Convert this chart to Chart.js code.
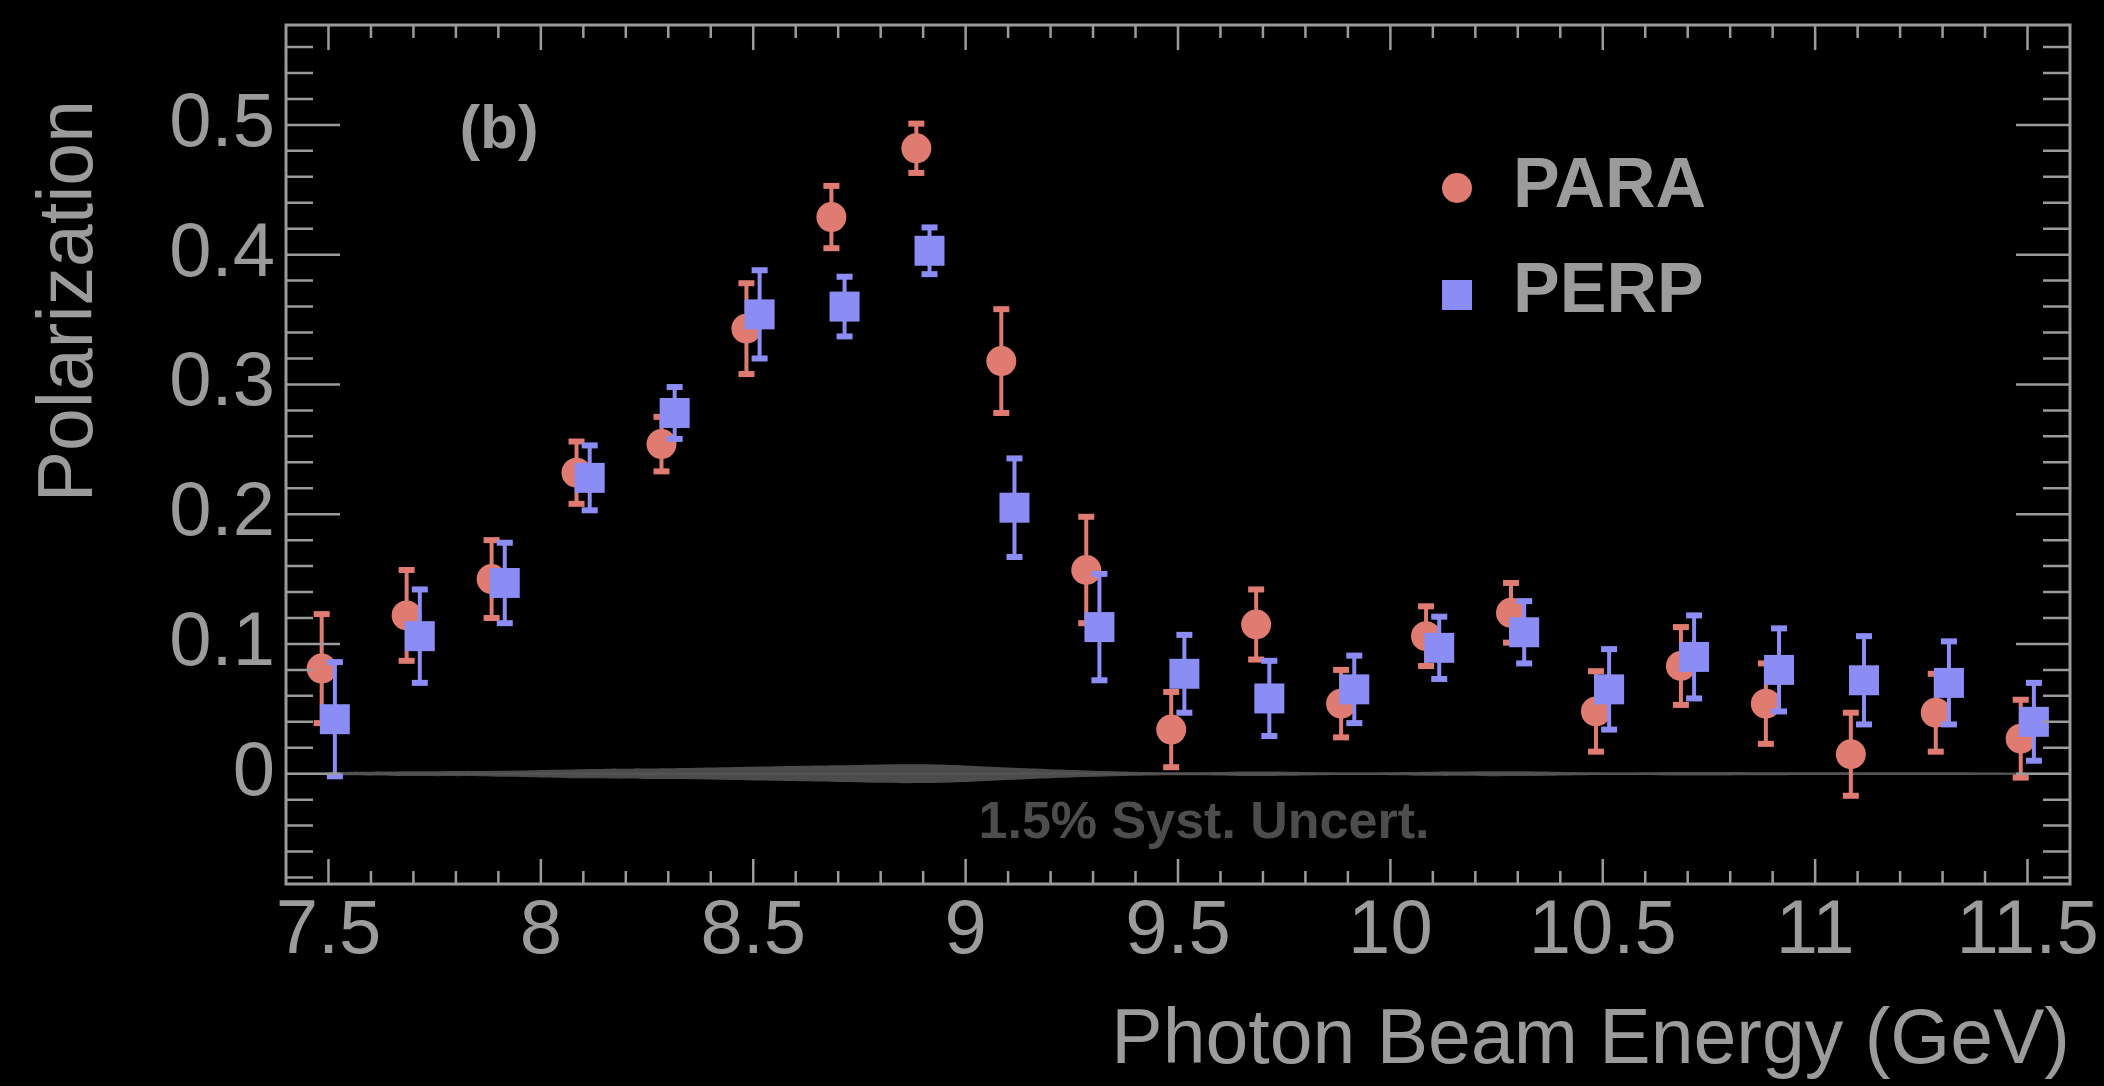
<!DOCTYPE html>
<html>
<head>
<meta charset="utf-8">
<title>Photon beam polarization</title>
<script src="https://cdn.jsdelivr.net/npm/chart.js@4.4.1/dist/chart.umd.min.js"></script>
<style>
  html, body { margin: 0; padding: 0; background: #000; }
  #wrap { width: 2104px; height: 1086px; }
</style>
</head>
<body>
<div id="wrap"><canvas id="pol-chart" width="2104" height="1086"></canvas></div>
<script>
// Beam energy bins (GeV)
const energyBins = [7.5, 7.7, 7.9, 8.1, 8.3, 8.5, 8.7, 8.9, 9.1, 9.3, 9.5,
                    9.7, 9.9, 10.1, 10.3, 10.5, 10.7, 10.9, 11.1, 11.3, 11.5];

// PARA orientation: polarization and statistical error
const paraPol = [0.081, 0.122, 0.150, 0.232, 0.254, 0.343, 0.429, 0.482, 0.318, 0.157, 0.034,
                 0.115, 0.054, 0.106, 0.124, 0.048, 0.083, 0.054, 0.015, 0.047, 0.027];
const paraErr = [0.042, 0.035, 0.030, 0.024, 0.021, 0.035, 0.024, 0.019, 0.040, 0.041, 0.029,
                 0.027, 0.026, 0.023, 0.023, 0.031, 0.030, 0.031, 0.032, 0.030, 0.030];

// PERP orientation: polarization and statistical error
const perpPol = [0.042, 0.106, 0.147, 0.228, 0.278, 0.354, 0.360, 0.403, 0.205, 0.113, 0.077,
                 0.058, 0.065, 0.097, 0.109, 0.065, 0.090, 0.080, 0.072, 0.070, 0.040];
const perpErr = [0.044, 0.036, 0.031, 0.025, 0.020, 0.034, 0.023, 0.018, 0.038, 0.041, 0.030,
                 0.029, 0.026, 0.024, 0.024, 0.031, 0.032, 0.032, 0.034, 0.032, 0.030];

const xTickValues = [7.5, 8, 8.5, 9, 9.5, 10, 10.5, 11, 11.5];
const yTickValues = [0, 0.1, 0.2, 0.3, 0.4, 0.5];

// relative systematic uncertainty shown as a band around zero
const systFraction = 0.015;

// small horizontal offsets so the two orientations don't sit on top of each other
const paraShift = -0.016;
const perpShift = 0.015;

const paraColor = '#df7b70';
const perpColor = '#8c8cf5';
const axisColor = '#9b9b9b';
const bandColor = '#4b4b4b';
const fontFamily = '"Liberation Sans", Arial, Helvetica, sans-serif';

Chart.defaults.font.family = fontFamily;

const paraPoints = energyBins.map((e, i) => ({ x: e + paraShift, y: paraPol[i] }));
const perpPoints = energyBins.map((e, i) => ({ x: e + perpShift, y: perpPol[i] }));
const systHalf = energyBins.map((e, i) => systFraction * Math.max(paraPol[i], perpPol[i]));
const bandUpper = energyBins.map((e, i) => ({ x: e, y: systHalf[i] }));
const bandLower = energyBins.map((e, i) => ({ x: e, y: -systHalf[i] }));

// vertical error bars with small caps, drawn just before each dataset's markers
const errorBars = {
    id: 'errorBars',
    beforeDatasetDraw(chart, args) {
        const ds = chart.data.datasets[args.index];
        if (!ds.errors) return;
        const xs = chart.scales.x, ys = chart.scales.y;
        const ctx = chart.ctx;
        ctx.save();
        ctx.strokeStyle = ds.backgroundColor;
        ctx.fillStyle = ds.backgroundColor;
        ctx.lineWidth = 4;
        ds.data.forEach((p, i) => {
            const px = xs.getPixelForValue(p.x);
            const top = ys.getPixelForValue(p.y + ds.errors[i]);
            const bot = ys.getPixelForValue(p.y - ds.errors[i]);
            ctx.beginPath();
            ctx.moveTo(px, top);
            ctx.lineTo(px, bot);
            ctx.stroke();
            ctx.fillRect(px - 8, top - 3, 16, 6);
            ctx.fillRect(px - 8, bot - 3, 16, 6);
        });
        ctx.restore();
    }
};

// box frame with inward ticks on all four sides
const frameTicks = {
    id: 'frameTicks',
    afterDatasetsDraw(chart) {
        const { left, right, top, bottom } = chart.chartArea;
        const xs = chart.scales.x, ys = chart.scales.y;
        const ctx = chart.ctx;
        ctx.save();
        ctx.strokeStyle = axisColor;
        ctx.lineWidth = 2.5;
        ctx.beginPath();
        for (let k = 75; k <= 115; k++) {
            const px = xs.getPixelForValue(k / 10);
            const len = k % 5 === 0 ? 25 : 13;
            ctx.moveTo(px, bottom);
            ctx.lineTo(px, bottom - len);
            ctx.moveTo(px, top);
            ctx.lineTo(px, top + len);
        }
        for (let k = -4; k <= 28; k++) {
            const py = ys.getPixelForValue(k * 0.02);
            const len = k % 5 === 0 ? 54 : 27;
            ctx.moveTo(left, py);
            ctx.lineTo(left + len, py);
            ctx.moveTo(right, py);
            ctx.lineTo(right - len, py);
        }
        ctx.stroke();
        ctx.lineWidth = 3;
        ctx.strokeRect(left, top, right - left, bottom - top);
        ctx.restore();
    }
};

// y title, panel tag, legend and band caption
const annotations = {
    id: 'annotations',
    afterDraw(chart) {
        const ctx = chart.ctx;
        const { left, top } = chart.chartArea;
        ctx.save();
        ctx.fillStyle = axisColor;
        ctx.save();
        ctx.font = '77px ' + fontFamily;
        ctx.translate(92, 100);
        ctx.rotate(-Math.PI / 2);
        ctx.textAlign = 'right';
        ctx.textBaseline = 'alphabetic';
        ctx.fillText('Polarization', 0, 0);
        ctx.restore();

        ctx.textBaseline = 'middle';
        ctx.textAlign = 'center';
        ctx.font = 'bold 62px ' + fontFamily;
        ctx.fillText('(b)', left + 213, top + 106);

        // legend
        const lx = 1457;
        ctx.fillStyle = paraColor;
        ctx.beginPath();
        ctx.arc(lx, 188, 15, 0, Math.PI * 2);
        ctx.fill();
        ctx.fillStyle = perpColor;
        ctx.fillRect(lx - 15, 280, 30, 30);
        ctx.fillStyle = axisColor;
        ctx.textAlign = 'left';
        ctx.font = 'bold 70px ' + fontFamily;
        ctx.fillText('PARA', 1513, 188);
        ctx.fillText('PERP', 1513, 293);

        ctx.fillStyle = '#4d4d4d';
        ctx.textAlign = 'center';
        ctx.font = 'bold 52px ' + fontFamily;
        ctx.fillText('1.5% Syst. Uncert.', 1204, 824);
        ctx.restore();
    }
};

const ctx = document.getElementById('pol-chart').getContext('2d');
new Chart(ctx, {
    type: 'scatter',
    data: {
        datasets: [
            {
                label: 'PERP',
                data: perpPoints,
                errors: perpErr,
                pointStyle: 'rect',
                pointRadius: 21.2,
                backgroundColor: perpColor,
                borderWidth: 0,
                order: 0
            },
            {
                label: 'PARA',
                data: paraPoints,
                errors: paraErr,
                pointStyle: 'circle',
                pointRadius: 15,
                backgroundColor: paraColor,
                borderWidth: 0,
                order: 1
            },
            {
                label: 'zero',
                type: 'line',
                data: [{ x: 7.4, y: 0 }, { x: 11.6, y: 0 }],
                borderColor: '#555555',
                borderWidth: 2,
                pointRadius: 0,
                fill: false,
                order: 2
            },
            {
                label: 'syst upper',
                type: 'line',
                data: bandUpper,
                borderWidth: 0,
                borderColor: bandColor,
                backgroundColor: bandColor,
                pointRadius: 0,
                tension: 0.4,
                fill: '+1',
                order: 3
            },
            {
                label: 'syst lower',
                type: 'line',
                data: bandLower,
                borderWidth: 0,
                borderColor: bandColor,
                pointRadius: 0,
                tension: 0.4,
                fill: false,
                order: 4
            }
        ]
    },
    options: {
        responsive: false,
        devicePixelRatio: 1,
        animation: false,
        events: [],
        layout: { padding: { top: 25, right: 34, left: 0, bottom: 0 } },
        plugins: {
            legend: { display: false },
            tooltip: { enabled: false }
        },
        scales: {
            x: {
                type: 'linear',
                min: 7.4,
                max: 11.6,
                grid: { display: false, drawTicks: false },
                border: { display: false },
                afterBuildTicks: (axis) => { axis.ticks = xTickValues.map(v => ({ value: v })); },
                afterFit: (axis) => {
                    axis.height = 202;
                    axis.paddingLeft = 0;
                    axis.paddingRight = 0;
                },
                ticks: {
                    color: axisColor,
                    font: { size: 76 },
                    padding: 2,
                    maxRotation: 0,
                    autoSkip: false,
                    callback: (v) => String(v)
                },
                title: {
                    display: true,
                    text: 'Photon Beam Energy (GeV)',
                    align: 'end',
                    color: axisColor,
                    font: { size: 77, lineHeight: 1 },
                    padding: { top: 0, bottom: 6 }
                }
            },
            y: {
                type: 'linear',
                min: -0.085,
                max: 0.577,
                grid: { display: false, drawTicks: false },
                border: { display: false },
                afterBuildTicks: (axis) => { axis.ticks = yTickValues.map(v => ({ value: v })); },
                afterFit: (axis) => {
                    axis.width = 286;
                    axis.paddingTop = 0;
                    axis.paddingBottom = 0;
                },
                ticks: {
                    color: axisColor,
                    font: { size: 76 },
                    padding: 11,
                    autoSkip: false,
                    callback: (v) => String(v)
                }
            }
        }
    },
    plugins: [errorBars, frameTicks, annotations]
});
</script>
</body>
</html>
